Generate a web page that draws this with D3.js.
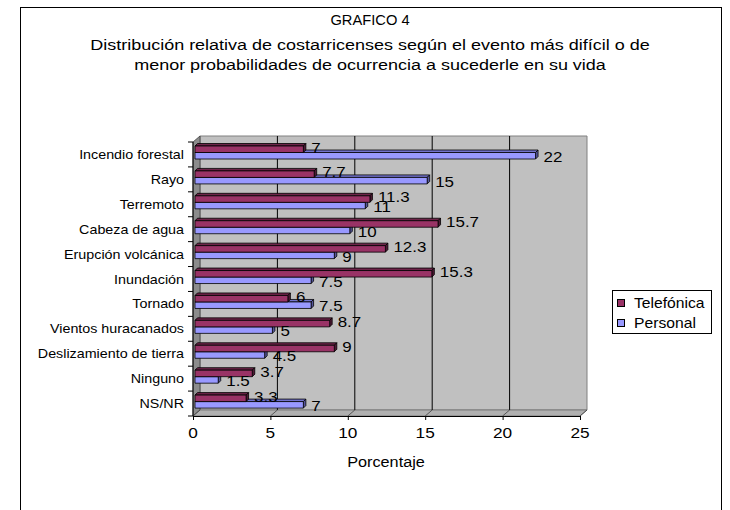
<!DOCTYPE html>
<html><head><meta charset="utf-8">
<script src="https://cdn.jsdelivr.net/npm/d3@7"></script>
<style>body{margin:0;background:#fff}text{font-family:"Liberation Sans",Arial,sans-serif;fill:#000}</style>
</head><body><svg id="c" width="730" height="510"></svg>
<script>
const categories = ["Incendio forestal","Rayo","Terremoto","Cabeza de agua","Erupción volcánica","Inundación","Tornado","Vientos huracanados","Deslizamiento de tierra","Ninguno","NS/NR"];
const seriesNames = ["Telefónica","Personal"];
const telefonica = [7,7.7,11.3,15.7,12.3,15.3,6,8.7,9,3.7,3.3];
const personal = [22,15,11,10,9,7.5,7.5,5,4.5,1.5,7];
const xTicks = [0,5,10,15,20,25];
const titleLines = ["GRAFICO 4","Distribución relativa de costarricenses según el evento más difícil o de","menor probabilidades de ocurrencia a sucederle en su vida"];
const xTitle = "Porcentaje";

const colors = {"Telefónica":{front:"#993366",top:"#6e2449",side:"#4f1a35"},
                "Personal":{front:"#9999ff",top:"#7373cc",side:"#55559a"}};

const svg = d3.select("#c");
function txt(x,y,s,size,anchor,sx){
  return svg.append("text").attr("transform",`translate(${x},${y}) scale(${sx},1)`)
    .attr("dy","0.35em").attr("text-anchor",anchor).style("font-size",size+"px").text(s);
}

// frame
svg.append("rect").attr("x",20.5).attr("y",7.5).attr("width",701).attr("height",540).attr("fill","#fff").attr("stroke","#000");

// title
const titleY=[20,45,65];
titleLines.forEach((t,i)=>txt(370,titleY[i],t,i===0?14:15,"middle",i===0?1.05:1.2));

const x = d3.scaleLinear().domain([0,25]).range([193,580]);
const y = d3.scaleBand().domain(categories).range([142,416]);
const DX=7, DY=-6;
const top0=142, bot0=416;

// back wall
svg.append("polygon").attr("points",[[x(0)+DX,top0+DY],[x(25)+DX,top0+DY],[x(25)+DX,bot0+DY],[x(0)+DX,bot0+DY]].map(p=>p.join(",")).join(" "))
  .attr("fill","#c0c0c0").attr("stroke","#808080");
// left wall
svg.append("polygon").attr("points",[[x(0),top0],[x(0)+DX,top0+DY],[x(0)+DX,bot0+DY],[x(0),bot0]].map(p=>p.join(",")).join(" "))
  .attr("fill","#8c8c8c").attr("stroke","#404040").attr("stroke-width",0.8);
// floor
svg.append("polygon").attr("points",[[x(0),bot0],[x(25),bot0],[x(25)+DX,bot0+DY],[x(0)+DX,bot0+DY]].map(p=>p.join(",")).join(" "))
  .attr("fill","#b0b0b0").attr("stroke","#707070").attr("stroke-width",0.8);
// gridlines
xTicks.filter(v=>v>0&&v<25).forEach(v=>{
  svg.append("line").attr("x1",x(v)+DX).attr("x2",x(v)+DX).attr("y1",top0+DY).attr("y2",bot0+DY).attr("stroke","#000").attr("stroke-width",1);
});
xTicks.forEach(v=>{
  svg.append("line").attr("x1",x(v)+DX).attr("y1",bot0+DY).attr("x2",x(v)).attr("y2",bot0).attr("stroke","#404040").attr("stroke-width",0.8);
});
// x axis
const xAxis = svg.append("g").attr("transform",`translate(0,${bot0})`)
  .call(d3.axisBottom(x).tickValues(xTicks).tickSize(4).tickFormat(""));
xAxis.select(".domain").attr("stroke","#000");
xTicks.forEach(v=>txt(x(v),433,String(v),15,"middle",1.15));
txt(386,462,xTitle,14,"middle",1.16);

// y axis
svg.append("line").attr("x1",x(0)).attr("x2",x(0)).attr("y1",top0).attr("y2",bot0).attr("stroke","#000");
const bounds = categories.map(c=>y(c)).concat([bot0]);
bounds.forEach(b=>svg.append("line").attr("x1",x(0)-5).attr("x2",x(0)).attr("y1",b).attr("y2",b).attr("stroke","#000"));
categories.forEach(c=>txt(184,y(c)+y.bandwidth()/2,c,13,"end",1.1));

// bars
const inner = d3.scaleBand().domain(seriesNames).range([4,17]);
const E=2.5;
const data = categories.map((c,i)=>({c, vals:{"Telefónica":telefonica[i],"Personal":personal[i]}}));
data.forEach(d=>{
  ["Personal","Telefónica"].forEach(s=>{
    const v=d.vals[s];
    const y0=y(d.c)+inner(s), h=inner.bandwidth();
    const x0=x(0)+2, x1=x(v)+2;
    const col=colors[s];
    const g=svg.append("g").attr("stroke","#000").attr("stroke-width",0.8).attr("stroke-linejoin","round");
    g.append("polygon").attr("points",[[x0,y0],[x0+E,y0-E],[x1+E,y0-E],[x1,y0]].map(p=>p.join(",")).join(" ")).attr("fill",col.top);
    g.append("polygon").attr("points",[[x1,y0],[x1+E,y0-E],[x1+E,y0+h-E],[x1,y0+h]].map(p=>p.join(",")).join(" ")).attr("fill",col.side);
    g.append("rect").attr("x",x0).attr("y",y0).attr("width",x1-x0).attr("height",h).attr("fill",col.front);
  });
});
// data labels
data.forEach(d=>{
  seriesNames.forEach((s,k)=>{
    const v=d.vals[s];
    const yc=y(d.c)+inner(s)+inner.bandwidth()/2 + (k===0?-2:1);
    txt(x(v)+10,yc,String(v),15,"start",1.13);
  });
});

// legend
svg.append("rect").attr("x",612.5).attr("y",290.5).attr("width",99).attr("height",43).attr("fill","#fff").attr("stroke","#000");
seriesNames.forEach((s,i)=>{
  const cy=303+i*20;
  svg.append("rect").attr("x",617.5).attr("y",cy-3.5).attr("width",7).attr("height",7).attr("fill",colors[s].front).attr("stroke","#000");
  txt(634,cy,s,14,"start",1.12);
});
</script></body></html>
